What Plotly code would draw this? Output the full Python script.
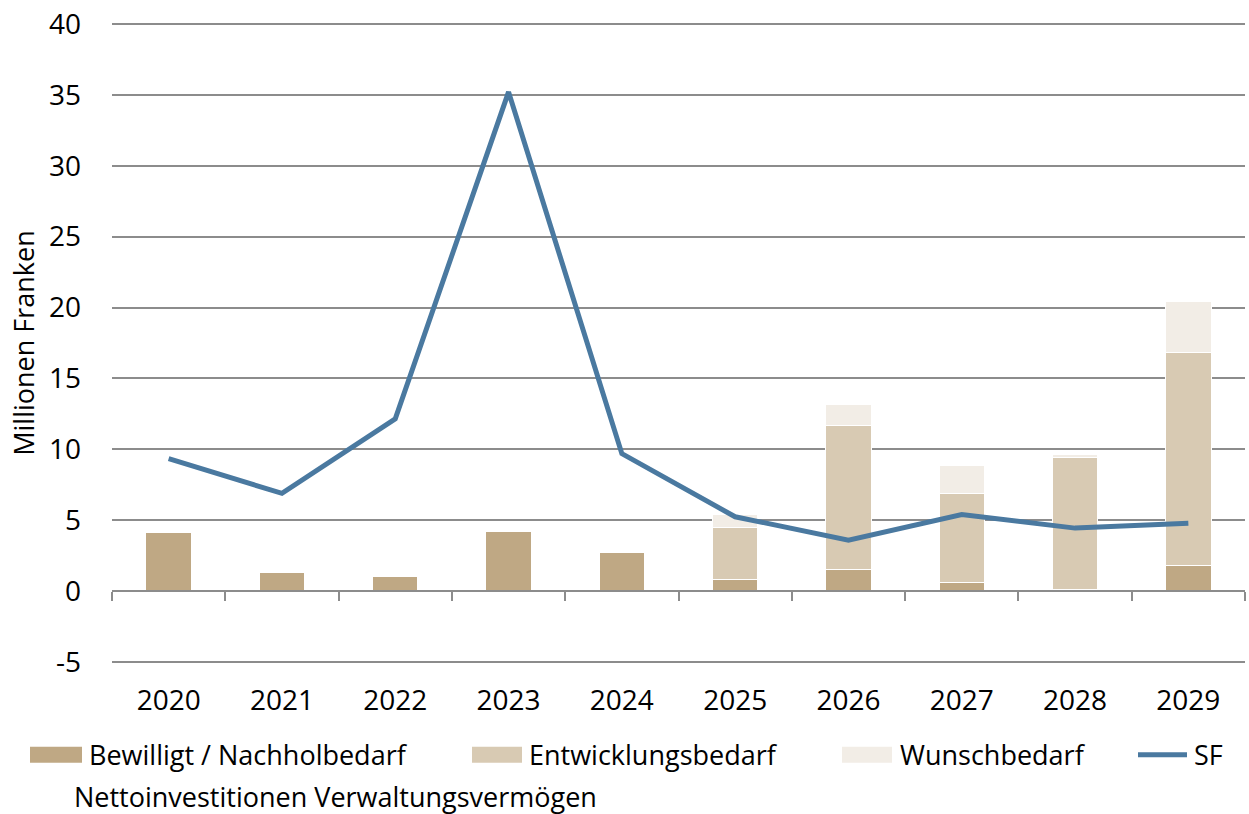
import plotly.graph_objects as go

# ── DATA ─────────────────────────────────────────────────────────────────────
years = ["2020", "2021", "2022", "2023", "2024", "2025", "2026", "2027", "2028", "2029"]

bewilligt   = [4.15, 1.35, 1.05, 4.2, 2.75, 0.85, 1.5, 0.6, 0.15, 1.85]
entwicklung = [0, 0, 0, 0, 0, 3.65, 10.2, 6.3, 9.25, 15.0]
wunsch      = [0, 0, 0, 0, 0, 0.9, 1.5, 1.95, 0.25, 3.55]
sf_netto    = [9.35, 6.9, 12.15, 35.2, 9.7, 5.25, 3.6, 5.4, 4.45, 4.8]

y_ticks  = [-5, 0, 5, 10, 15, 20, 25, 30, 35, 40]
y_labels = ["-5", "0", "5", "10", "15", "20", "25", "30", "35", "40"]

COLORS = {
    "bewilligt":   "#BFA884",
    "entwicklung": "#D8CAB3",
    "wunsch":      "#F2EDE6",
    "sf":          "#4A79A0",
    "grid":        "#8C8C8C",
}

FONT = "Open Sans"
Y_RANGE = [-5.2, 40.2]

# ── FIGURE ───────────────────────────────────────────────────────────────────
fig = go.Figure()
for name, vals, key in [
    ("Bewilligt / Nachholbedarf", bewilligt, "bewilligt"),
    ("Entwicklungsbedarf", entwicklung, "entwicklung"),
    ("Wunschbedarf", wunsch, "wunsch"),
]:
    fig.add_trace(go.Bar(
        x=years, y=vals, name=name,
        marker=dict(color=COLORS[key], line=dict(color="white", width=1)),
    ))

fig.add_trace(go.Scatter(
    x=years, y=sf_netto, name="SF Nettoinvestitionen Verwaltungsvermögen",
    mode="lines", line=dict(color=COLORS["sf"], width=5),
))

fig.update_layout(
    width=1249, height=814,
    barmode="stack", bargap=0.6,
    showlegend=False,
    paper_bgcolor="white", plot_bgcolor="white",
    font=dict(family=FONT, size=27, color="black"),
    margin=dict(l=112, r=4, t=19, b=149),
)

fig.update_xaxes(
    type="category",
    anchor="free", position=(0 - Y_RANGE[0]) / (Y_RANGE[1] - Y_RANGE[0]),
    showline=True, linecolor=COLORS["grid"], linewidth=2,
    ticks="outside", tickson="boundaries", ticklen=9, tickwidth=2, tickcolor=COLORS["grid"],
    ticklabelstandoff=84,
    tickfont=dict(size=28),
    showgrid=False,
)
fig.update_yaxes(
    range=Y_RANGE,
    tickvals=y_ticks, ticktext=y_labels,
    showgrid=True, gridcolor=COLORS["grid"], gridwidth=1.5,
    zeroline=False, showline=False,
    ticks="", ticklabelstandoff=30,
    tickfont=dict(size=28),
    title=dict(text="Millionen Franken", font=dict(size=27), standoff=6),
)

# ── LEGEND (drawn by hand to match the original layout) ──────────────────────
def px_x(v):
    return (v - 112) / 1133

def px_y(v):
    return (665 - v) / 646

row1, row2 = 755, 797
swatches = [
    (30, 82, COLORS["bewilligt"], "Bewilligt / Nachholbedarf", 87),
    (472, 522, COLORS["entwicklung"], "Entwicklungsbedarf", 527),
    (842, 892, COLORS["wunsch"], "Wunschbedarf", 898),
]
for x0, x1, col, label, tx in swatches:
    fig.add_shape(type="rect", xref="paper", yref="paper",
                  x0=px_x(x0), x1=px_x(x1), y0=px_y(row1 + 8), y1=px_y(row1 - 8),
                  fillcolor=col, line=dict(width=0))
    fig.add_annotation(text=label, xref="paper", yref="paper",
                       x=px_x(tx), y=px_y(row1), xanchor="left", yanchor="middle",
                       showarrow=False, font=dict(size=27))

fig.add_shape(type="line", xref="paper", yref="paper",
              x0=px_x(1138), x1=px_x(1187), y0=px_y(row1), y1=px_y(row1),
              line=dict(color=COLORS["sf"], width=5))
fig.add_annotation(text="SF", xref="paper", yref="paper",
                   x=px_x(1192), y=px_y(row1), xanchor="left", yanchor="middle",
                   showarrow=False, font=dict(size=27))
fig.add_annotation(text="Nettoinvestitionen Verwaltungsvermögen", xref="paper", yref="paper",
                   x=px_x(72), y=px_y(row2), xanchor="left", yanchor="middle",
                   showarrow=False, font=dict(size=27))

fig.write_html("out.html", config={"displayModeBar": False},
               post_script="document.body.style.margin='0';")
